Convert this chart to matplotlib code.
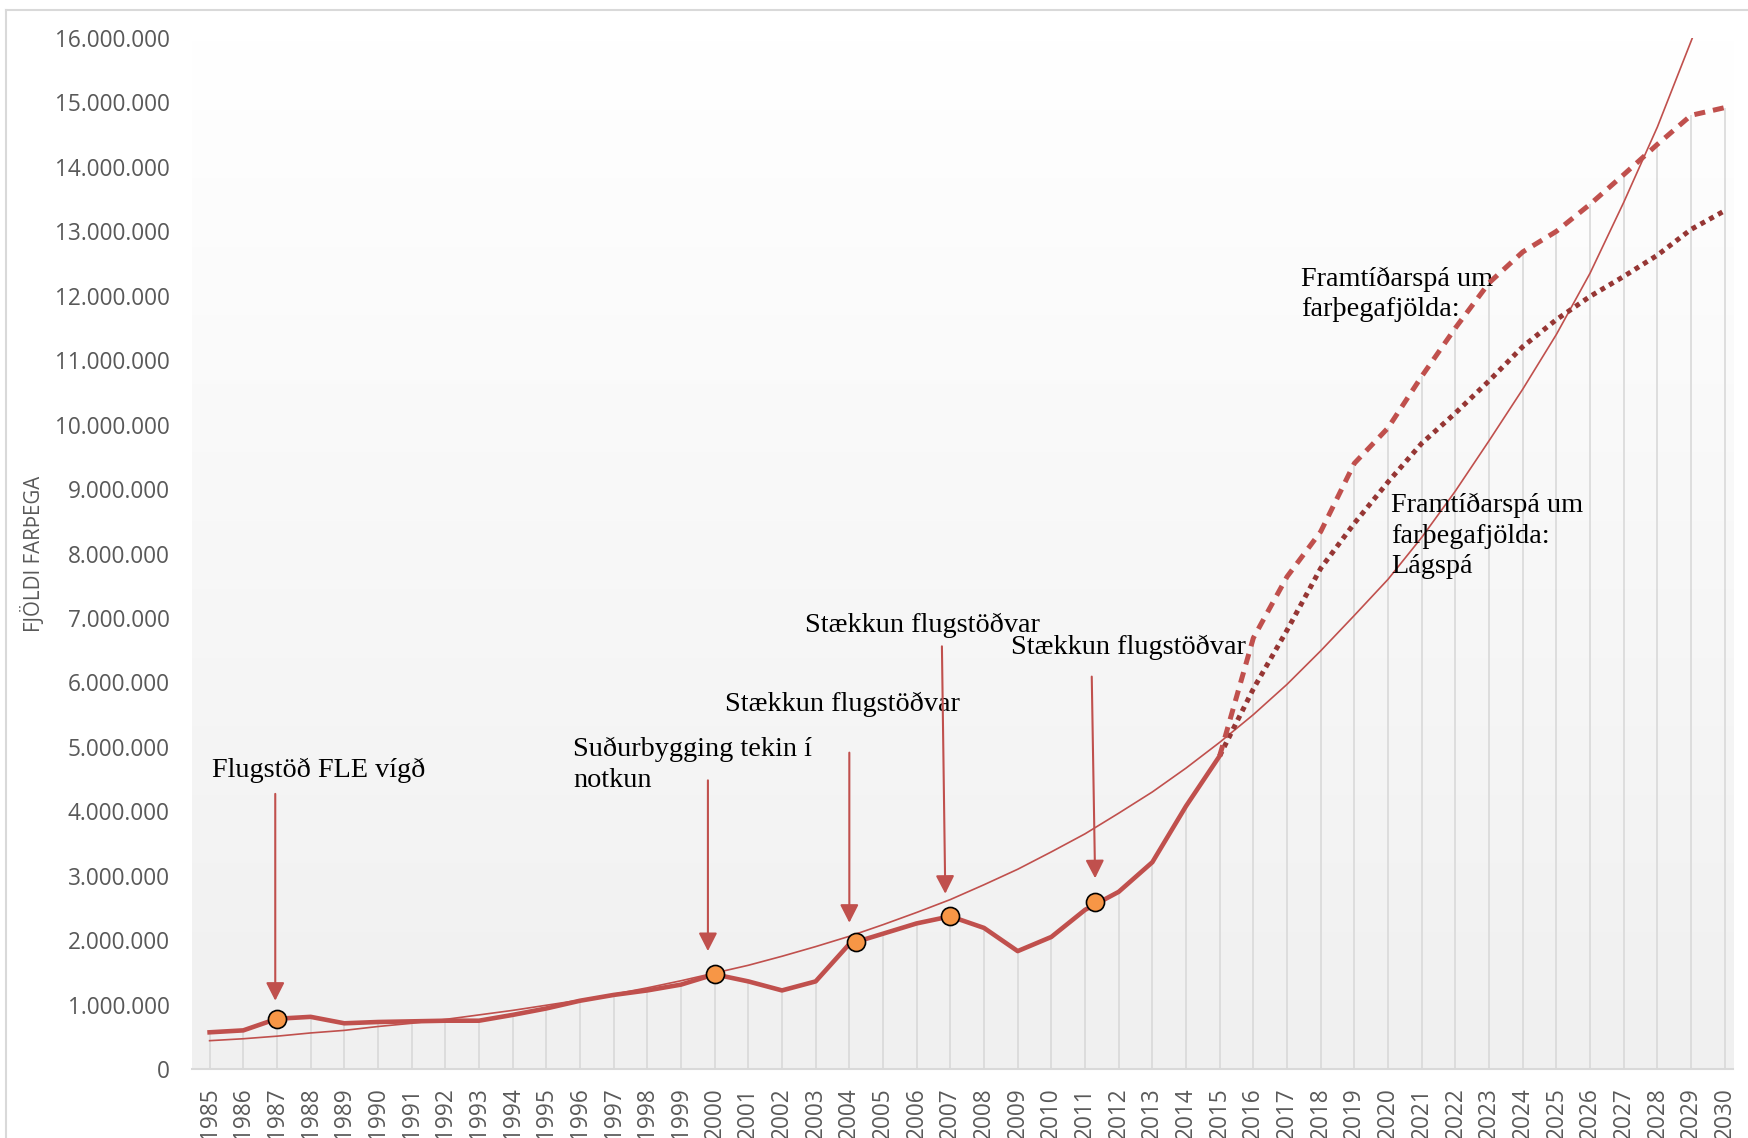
import numpy as np
import matplotlib
matplotlib.use("Agg")
import matplotlib.pyplot as plt
from matplotlib.ticker import FuncFormatter
from matplotlib.lines import Line2D

# passenger numbers, millions
years = list(range(1985, 2016))
actual = [0.57, 0.60, 0.78, 0.81, 0.71, 0.73, 0.74, 0.75, 0.75, 0.84,
          0.94, 1.06, 1.15, 1.22, 1.31, 1.47, 1.36, 1.22, 1.36, 1.94,
          2.10, 2.26, 2.37, 2.19, 1.83, 2.05, 2.47, 2.75, 3.21, 4.08, 4.86]

fc_years = list(range(2015, 2031))
high = [4.86, 6.69, 7.64, 8.34, 9.40, 9.95, 10.75, 11.50, 12.20, 12.68,
        13.00, 13.42, 13.88, 14.35, 14.80, 14.92]
low = [4.86, 5.90, 6.81, 7.77, 8.47, 9.11, 9.71, 10.18, 10.68, 11.21,
       11.63, 11.99, 12.30, 12.63, 13.03, 13.32]

trend_years = list(range(1985, 2031))
trend = [0.44, 0.47, 0.51, 0.56, 0.60, 0.66, 0.71, 0.77, 0.84, 0.91,
         0.99, 1.07, 1.16, 1.26, 1.37, 1.49, 1.61, 1.75, 1.90, 2.06,
         2.24, 2.43, 2.63, 2.86, 3.10, 3.37, 3.65, 3.97, 4.30, 4.67,
         5.07, 5.50, 5.97, 6.49, 7.04, 7.60, 8.25, 8.97, 9.75, 10.55,
         11.40, 12.35, 13.45, 14.62, 15.95, 17.30]

event_years = [1987, 2000, 2004.2, 2007, 2011.3]
event_vals = [0.78, 1.47, 1.97, 2.37, 2.59]

all_years = list(range(1985, 2031))
yticks = list(range(0, 17))

red = "#c0504d"
dark_red = "#963634"
grey_text = "#595959"
serif = "Liberation Serif"

fig = plt.figure(figsize=(17.48, 11.38), dpi=100)
ax = fig.add_axes([0.1097, 0.0606, 0.882, 0.906])
ax.set_xlim(1984.47, 2030.26)
ax.set_ylim(0, 16)

# gradient plot background
grad = np.linspace(0, 1, 256).reshape(-1, 1)
ax.imshow(grad, cmap=matplotlib.colors.LinearSegmentedColormap.from_list("bg", ["#ffffff", "#f0f0f0"]),
          extent=[1984.47, 2030.26, 0, 16], aspect="auto", origin="upper", zorder=0)

# drop lines up to the highest series value
top_vals = []
for y in all_years:
    vals = []
    if y in years:
        vals.append(actual[years.index(y)])
    if y in fc_years:
        vals.append(high[fc_years.index(y)])
        vals.append(low[fc_years.index(y)])
    top_vals.append(max(vals))
ax.vlines(all_years, 0, top_vals, color="#d9d9d9", lw=1.2, zorder=1)

ax.plot(trend_years, trend, color=red, lw=1.2, zorder=2)
ax.plot(fc_years, low, color=dark_red, lw=3.6, linestyle=(0, (1, 1)), zorder=3)
ax.plot(fc_years, high, color=red, lw=3.6, linestyle=(0, (2.2, 1.6)), zorder=3)
ax.plot(years, actual, color=red, lw=3.3, zorder=3, solid_joinstyle="round")
ax.plot(event_years, event_vals, "o", ms=13, mfc="#f79646", mec="black", mew=1.2, ls="none", zorder=4)

# annotations
notes = [
    ("Flugstöð FLE vígð", 1985.07, 4.64),
    ("Suðurbygging tekin í\nnotkun", 1995.8, 4.72),
    ("Stækkun flugstöðvar", 2000.3, 5.66),
    ("Stækkun flugstöðvar", 2002.68, 6.89),
    ("Stækkun flugstöðvar", 2008.8, 6.54),
    ("Framtíðarspá um\nfarþegafjölda:", 2017.42, 12.02),
    ("Framtíðarspá um\nfarþegafjölda:\nLágspá", 2020.1, 8.27),
]
for txt, x, y in notes:
    ax.text(x, y, txt, family=serif, fontsize=20.3, color="black",
            ha="left", va="center", linespacing=1.28, zorder=2.5)

arrows = [
    ((1986.95, 4.27), (1986.95, 1.06)),
    ((1999.8, 4.48), (1999.8, 1.83)),
    ((2004.0, 4.91), (2004.0, 2.27)),
    ((2006.75, 6.56), (2006.85, 2.72)),
    ((2011.2, 6.09), (2011.3, 2.96)),
]
for tail, tip in arrows:
    ax.annotate("", xy=tip, xytext=tail,
                arrowprops=dict(arrowstyle="-|>,head_length=0.55,head_width=0.28",
                                color=red, lw=1.5, shrinkA=0, shrinkB=0,
                                mutation_scale=20), zorder=5)

ax.set_xticks(all_years)
ax.set_xticklabels([str(y) for y in all_years], rotation=90, family="Open Sans",
                   fontsize=16.3, color=grey_text)
ax.set_yticks(yticks)
ax.yaxis.set_major_formatter(FuncFormatter(lambda v, p: f"{int(v * 1000000):,}".replace(",", ".")))
for lab in ax.get_yticklabels():
    lab.set_family("Open Sans")
    lab.set_fontsize(16.3)
    lab.set_color(grey_text)
ax.tick_params(axis="both", length=0)
ax.tick_params(axis="y", pad=16)
ax.tick_params(axis="x", pad=13)

for s in ["top", "left", "right"]:
    ax.spines[s].set_visible(False)
ax.spines["bottom"].set_color("#d9d9d9")
ax.spines["bottom"].set_linewidth(1.5)

fig.text(33 / 1748, 1 - 554 / 1138, "FJÖLDI FARÞEGA", rotation=90, family="Open Sans",
         fontsize=14.8, color=grey_text, ha="center", va="center")

# outer frame
fig.add_artist(Line2D([6 / 1748, 6 / 1748], [0, 1 - 10 / 1138], color="#d9d9d9", lw=1.5))
fig.add_artist(Line2D([6 / 1748, 1], [1 - 10 / 1138, 1 - 10 / 1138], color="#d9d9d9", lw=1.5))

fig.savefig("out.png", dpi=100)
